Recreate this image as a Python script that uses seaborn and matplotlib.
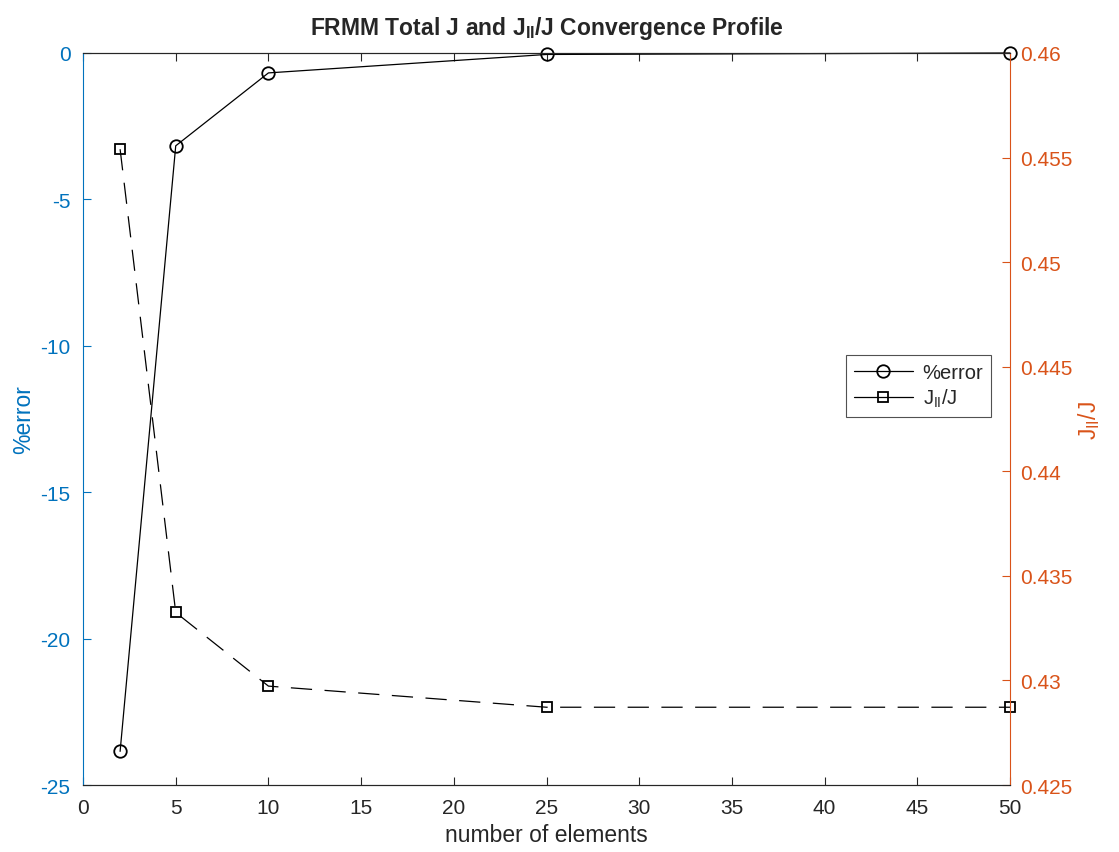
import matplotlib
matplotlib.use("Agg")
import matplotlib.pyplot as plt
import seaborn as sns
from matplotlib.lines import Line2D

# ── Data ──────────────────────────────────────────────────────────────────────
n_elements = [2, 5, 10, 25, 50]
pct_error = [-23.85, -3.17, -0.68, -0.05, 0.0]
j_ratio = [0.4554, 0.43325, 0.42973, 0.42872, 0.42872]

x_ticks = list(range(0, 55, 5))
left_ticks = [-25, -20, -15, -10, -5, 0]
right_ticks = [0.425, 0.43, 0.435, 0.44, 0.445, 0.45, 0.455, 0.46]

_BLUE = "#0072BD"
_ORANGE = "#D95319"
_GRAY = "#262626"

sns.set_style("white")
plt.rcParams["font.family"] = ["Liberation Sans", "DejaVu Sans"]
plt.rcParams["axes.unicode_minus"] = False
plt.rcParams["mathtext.fontset"] = "custom"
plt.rcParams["mathtext.rm"] = "Liberation Sans"
plt.rcParams["mathtext.it"] = "Liberation Sans"
plt.rcParams["mathtext.bf"] = "Liberation Sans:bold"

fig = plt.figure(figsize=(11.19, 8.53), dpi=100)
ax = fig.add_axes([0.0742, 0.0785, 0.8284, 0.8582])
ax2 = ax.twinx()

sns.lineplot(x=n_elements, y=pct_error, ax=ax, color="k", linewidth=0.9,
             marker="o", markersize=9, markerfacecolor="none",
             markeredgecolor="k", markeredgewidth=1.3, clip_on=False)
sns.lineplot(x=n_elements, y=j_ratio, ax=ax2, color="k", linewidth=0.9,
             linestyle=(0, (17, 10)), marker="s", markersize=7,
             markerfacecolor="none", markeredgecolor="k", markeredgewidth=1.3,
             clip_on=False)

ax.set_xlim(0, 50)
ax.set_ylim(-25, 0)
ax2.set_ylim(0.425, 0.46)
ax.set_xticks(x_ticks)
ax.set_yticks(left_ticks)
ax2.set_yticks(right_ticks)
ax2.set_yticklabels([f"{v:g}" for v in right_ticks])

ax.tick_params(axis="x", direction="in", top=True, bottom=True, length=6,
               labelsize=15, colors=_GRAY, pad=9)
ax.tick_params(axis="y", direction="in", length=6, labelsize=15,
               colors=_BLUE, pad=9)
ax2.tick_params(axis="y", direction="in", length=6, labelsize=15,
                colors=_ORANGE, pad=7)

for side in ["top", "bottom"]:
    ax.spines[side].set_color(_GRAY)
    ax.spines[side].set_linewidth(0.8)
ax.spines["left"].set_color(_BLUE)
ax2.spines["left"].set_visible(False)
ax2.spines["right"].set_color(_ORANGE)
ax.spines["right"].set_visible(False)
for s in ax2.spines.values():
    s.set_linewidth(0.8)
ax2.spines["top"].set_color(_GRAY)
ax2.spines["bottom"].set_color(_GRAY)

ax.set_xlabel("number of elements", fontsize=16.5, color=_GRAY, labelpad=5)
ax.set_ylabel("%error", fontsize=16.5, color=_BLUE, labelpad=4)
ax2.set_ylabel(r"J$_{\mathrm{II}}$/J", fontsize=16.5, color=_ORANGE, labelpad=3)
ax.set_title(r"FRMM Total J and J$_{\mathbf{II}}$/J Convergence Profile",
             fontsize=16.5, fontweight="bold", pad=14)

handles = [
    Line2D([], [], color="k", linewidth=0.9, marker="o", markersize=9,
           markerfacecolor="none", markeredgewidth=1.3),
    Line2D([], [], color="k", linewidth=0.9, marker="s", markersize=7,
           markerfacecolor="none", markeredgewidth=1.3),
]
leg = ax2.legend(handles, ["%error", r"J$_{\mathrm{II}}$/J"], loc="center right",
                 bbox_to_anchor=(0.98, 0.545), fontsize=14.5, frameon=True,
                 fancybox=False, edgecolor=_GRAY, handlelength=2.9,
                 handletextpad=0.5, borderpad=0.4, labelspacing=0.25,
                 borderaxespad=0)
leg.get_frame().set_linewidth(0.8)

fig.savefig("out.png", dpi=100)
plt.close(fig)
